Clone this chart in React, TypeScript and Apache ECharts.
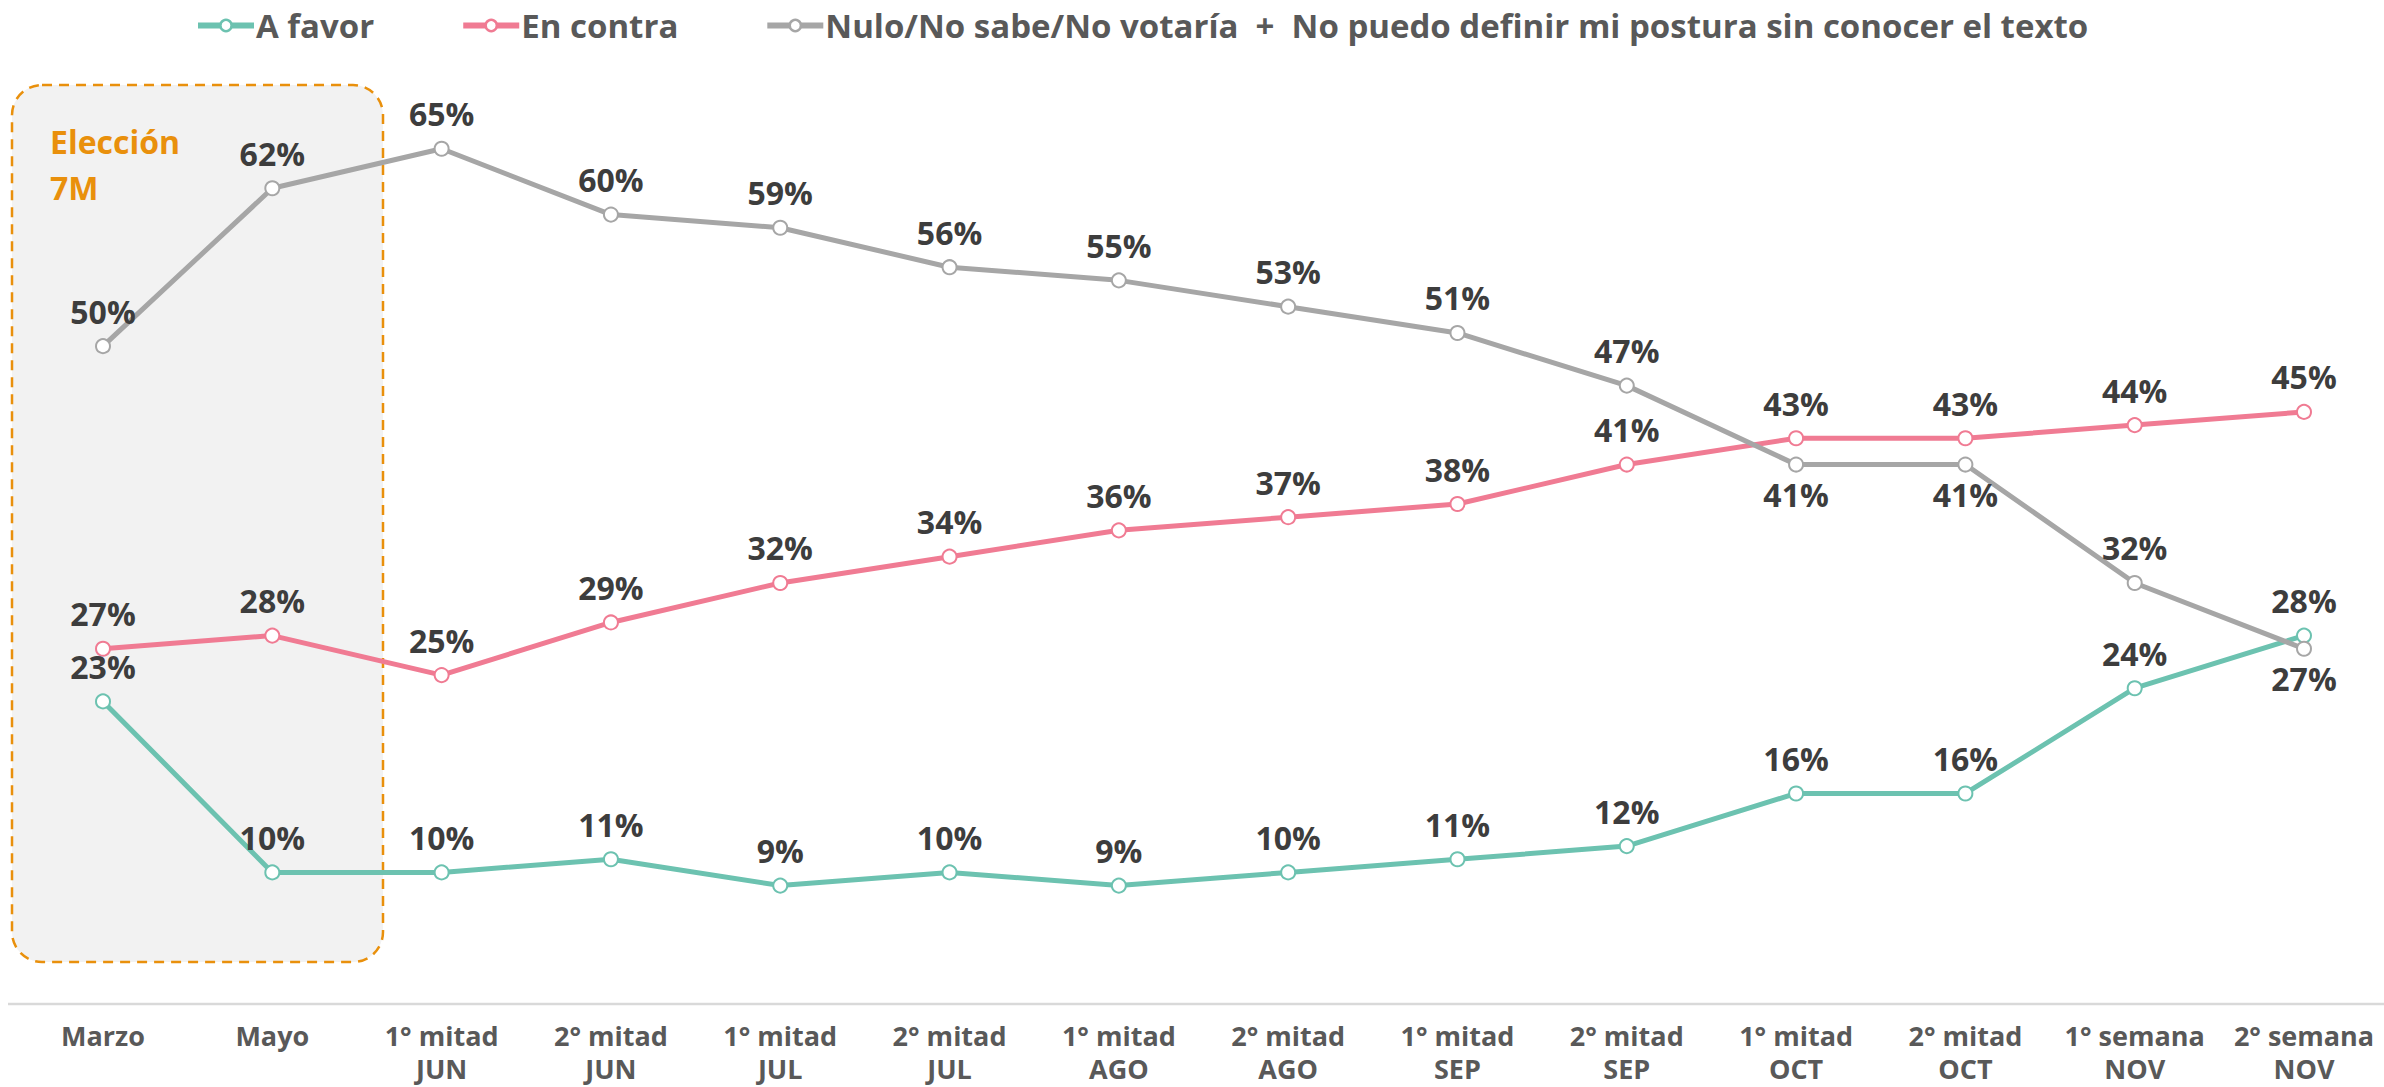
import React, { useEffect, useRef } from "react";
import * as echarts from "echarts";

const categories = [
  "Marzo",
  "Mayo",
  "1° mitad\nJUN",
  "2° mitad\nJUN",
  "1° mitad\nJUL",
  "2° mitad\nJUL",
  "1° mitad\nAGO",
  "2° mitad\nAGO",
  "1° mitad\nSEP",
  "2° mitad\nSEP",
  "1° mitad\nOCT",
  "2° mitad\nOCT",
  "1° semana\nNOV",
  "2° semana\nNOV",
];

const aFavor = [23, 10, 10, 11, 9, 10, 9, 10, 11, 12, 16, 16, 24, 28];
const enContra = [27, 28, 25, 29, 32, 34, 36, 37, 38, 41, 43, 43, 44, 45];
const nulo = [50, 62, 65, 60, 59, 56, 55, 53, 51, 47, 41, 41, 32, 27];
const nuloLabelBelow = [10, 11, 13];

const seriesNames = [
  "A favor",
  "En contra",
  "Nulo/No sabe/No votaría \u00a0+\u00a0 No puedo definir mi postura sin conocer el texto",
];

const FONT = "'Open Sans', 'Noto Sans', sans-serif";
const LABEL_COLOR = "#3d3d3d";

export default function App() {
  const ref = useRef<HTMLDivElement>(null);

  useEffect(() => {
    if (!ref.current) return;
    const chart = echarts.init(ref.current, null, { renderer: "svg" });

    const makeSeries = (name: string, values: number[], color: string, below: number[] = []) => ({
      name,
      type: "line",
      data: values.map((v, i) =>
        below.includes(i) ? { value: v, label: { position: "bottom", distance: 6 } } : v
      ),
      symbol: "circle",
      symbolSize: 14,
      showAllSymbol: true,
      lineStyle: { color, width: 5 },
      itemStyle: { color: "#ffffff", borderColor: color, borderWidth: 2 },
      label: {
        show: true,
        position: "top",
        distance: 11,
        formatter: "{c}%",
        color: LABEL_COLOR,
        fontFamily: FONT,
        fontWeight: "bold",
        fontSize: 32,
      },
      z: 3,
    });

    chart.setOption({
      animation: false,
      backgroundColor: "#ffffff",
      textStyle: { fontFamily: FONT },
      legend: {
        top: 4,
        left: 190,
        itemGap: 86,
        itemWidth: 56,
        itemHeight: 14,
        lineStyle: { width: 6 },
        itemStyle: { borderWidth: 2.5 },
        textStyle: {
          fontFamily: FONT,
          fontWeight: "bold",
          fontSize: 33,
          color: "#595959",
          padding: [0, 0, 0, -3],
        },
        data: seriesNames,
      },
      grid: {
        left: 103,
        right: 80,
        top: 83,
        bottom: 83,
        containLabel: false,
        outerBoundsMode: "none",
      },
      xAxis: {
        type: "category",
        data: categories,
        boundaryGap: false,
        axisLine: { show: false },
        axisTick: { show: false },
        splitLine: { show: false },
        axisLabel: {
          interval: 0,
          margin: 15,
          color: "#595959",
          fontFamily: FONT,
          fontWeight: "bold",
          fontSize: 27,
          lineHeight: 33,
        },
      },
      yAxis: {
        type: "value",
        min: 0,
        max: 70,
        show: false,
        splitLine: { show: false },
      },
      graphic: [
        {
          type: "rect",
          z: -10,
          shape: { x: 12, y: 85, width: 371, height: 877, r: 30 },
          style: {
            fill: "#f2f2f2",
            stroke: "#E9900C",
            lineWidth: 2.5,
            lineDash: [10, 7],
          },
        },
        {
          type: "text",
          z: -5,
          x: 50,
          y: 141,
          style: {
            text: "Elección",
            fill: "#E9900C",
            font: `bold 32px ${FONT}`,
            verticalAlign: "middle",
          },
        },
        {
          type: "text",
          z: -5,
          x: 50,
          y: 187,
          style: {
            text: "7M",
            fill: "#E9900C",
            font: `bold 32px ${FONT}`,
            verticalAlign: "middle",
          },
        },
        {
          type: "line",
          z: -5,
          shape: { x1: 8, y1: 1004, x2: 2384, y2: 1004 },
          style: { stroke: "#d9d9d9", lineWidth: 2.5 },
        },
      ],
      series: [
        makeSeries(seriesNames[0], aFavor, "#6cc2b0"),
        makeSeries(seriesNames[1], enContra, "#f07b93"),
        makeSeries(seriesNames[2], nulo, "#a6a6a6", nuloLabelBelow),
      ],
    });

    return () => chart.dispose();
  }, []);

  return (
    <div
      ref={ref}
      style={{ position: "fixed", left: 0, top: 0, width: 2384, height: 1087 }}
    />
  );
}
